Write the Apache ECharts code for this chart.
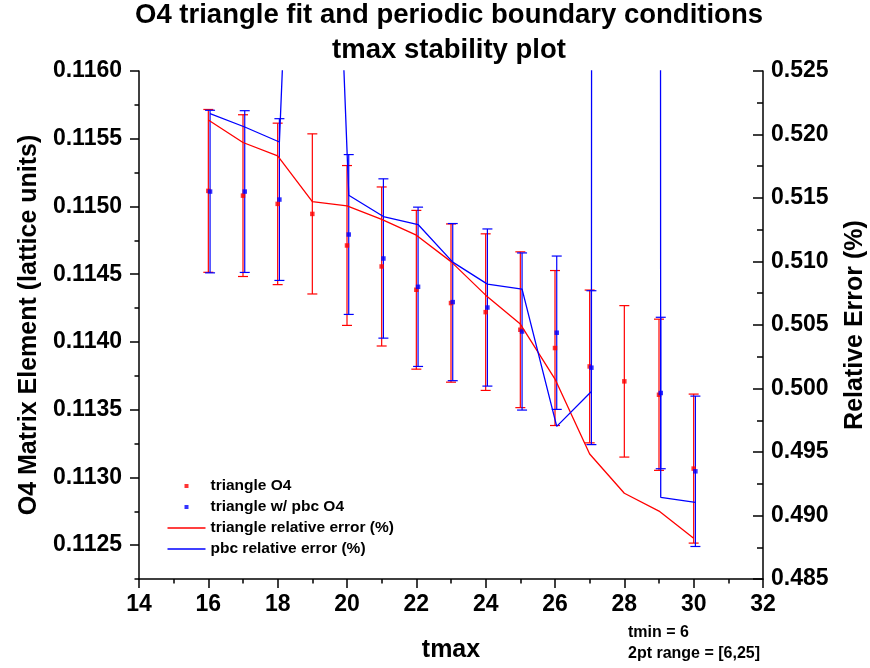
<!DOCTYPE html>
<html>
<head>
<meta charset="utf-8">
<script src="https://cdn.jsdelivr.net/npm/echarts@6/dist/echarts.min.js"></script>
<style>html,body{margin:0;padding:0;background:#fff}#c{width:870px;height:668px}</style>
</head>
<body>
<div id="c"></div>
<script>
// ---- data ----
const tmax = [16, 17, 18, 19, 20, 21, 22, 23, 24, 25, 26, 27, 28, 29, 30];
const triO4 = [0.115115, 0.115080, 0.115019, 0.114945, 0.114712, 0.114557, 0.114385, 0.114287, 0.114220, 0.114090, 0.113955, 0.113819, 0.113709, 0.113610, 0.113065];
const triErr = [0.000601, 0.000597, 0.000596, 0.000591, 0.000590, 0.000587, 0.000586, 0.000584, 0.000578, 0.000575, 0.000572, 0.000564, 0.000559, 0.000558, 0.000550];
const pbcO4 = [0.115110, 0.115110, 0.115051, null, 0.114793, 0.114616, 0.114407, 0.114294, 0.114254, 0.114077, 0.114068, 0.113810, null, 0.113623, 0.113045];
const pbcErr = [0.000600, 0.000597, 0.000597, null, 0.000590, 0.000588, 0.000588, 0.000580, 0.000580, 0.000580, 0.000566, 0.000568, null, 0.000559, 0.000555];
const triRel = [0.52114, 0.51937, 0.51831, 0.51472, 0.51438, 0.51331, 0.51207, 0.50999, 0.50735, 0.50507, 0.50074, 0.49484, 0.49175, 0.49035, 0.48820];
const pbcRel = [0.52165, 0.52059, 0.51941, 0.586, 0.51522, 0.51354, 0.51291, 0.50995, 0.50822, 0.50782, 0.49702, 0.49977, 6.0, 0.49143, 0.49104];
const pbcShift = 0.05; // pbc set drawn slightly right of the integer tmax
const xTicks = [14, 16, 18, 20, 22, 24, 26, 28, 30, 32];
const leftTicks = [0.1125, 0.1130, 0.1135, 0.1140, 0.1145, 0.1150, 0.1155, 0.1160];
const rightTicks = [0.485, 0.490, 0.495, 0.500, 0.505, 0.510, 0.515, 0.520, 0.525];

const FONT = 'Liberation Sans, Arial, Helvetica, sans-serif';
const RED = '#ff0000', BLUE = '#0000ff';

const triPts = tmax.map((t, i) => [t, triO4[i]]);
const triBars = tmax.map((t, i) => [t, triO4[i], triErr[i]]);
const pbcPts = [], pbcBars = [];
tmax.forEach((t, i) => {
  if (pbcO4[i] != null) {
    pbcPts.push([t + pbcShift, pbcO4[i]]);
    pbcBars.push([t + pbcShift, pbcO4[i], pbcErr[i]]);
  }
});
const triRelData = tmax.map((t, i) => [t, triRel[i]]);
const pbcRelData = tmax.map((t, i) => [t + pbcShift, pbcRel[i]]);

function errRender(color) {
  return function (params, api) {
    const x = api.value(0), y = api.value(1), e = api.value(2);
    const top = api.coord([x, y + e]);
    const bot = api.coord([x, y - e]);
    const hw = 5;
    const style = { stroke: color, lineWidth: 1.2 };
    return {
      type: 'group',
      children: [
        { type: 'line', shape: { x1: top[0], y1: top[1], x2: bot[0], y2: bot[1] }, style: style },
        { type: 'line', shape: { x1: top[0] - hw, y1: top[1], x2: top[0] + hw, y2: top[1] }, style: style },
        { type: 'line', shape: { x1: bot[0] - hw, y1: bot[1], x2: bot[0] + hw, y2: bot[1] }, style: style }
      ]
    };
  };
}

const sq = 'path://M0,0M16,16M6,6L10,6L10,10L6,10Z';
const ln = 'path://M0,0L38,0L38,1.4L0,1.4Z';
const labelStyle = { color: '#000', fontFamily: FONT, fontWeight: 'bold', fontSize: 23 };
const nameStyle = { color: '#000', fontFamily: FONT, fontWeight: 'bold', fontSize: 25 };
const axLine = { show: true, lineStyle: { color: '#000', width: 1.5 } };

const chart = echarts.init(document.getElementById('c'), null, { renderer: 'canvas' });
chart.setOption({
  animation: false,
  backgroundColor: '#fff',
  title: {
    text: 'O4 triangle fit and periodic boundary conditions\ntmax stability plot',
    left: 449,
    textAlign: 'center',
    top: -2,
    padding: 0,
    textStyle: { color: '#000', fontFamily: FONT, fontWeight: 'bold', fontSize: 27.5, lineHeight: 35 }
  },
  grid: { left: 139, right: 107, top: 71, bottom: 89, containLabel: false, outerBoundsMode: 'none' },
  legend: {
    orient: 'vertical',
    left: 162.5,
    top: 473,
    itemWidth: 38,
    itemHeight: 16,
    itemGap: 5,
    selectedMode: false,
    textStyle: { color: '#000', fontFamily: FONT, fontWeight: 'bold', fontSize: 15.5 },
    data: [
      { name: 'triangle O4', icon: sq },
      { name: 'triangle w/ pbc O4', icon: sq },
      { name: 'triangle relative error (%)', icon: ln },
      { name: 'pbc relative error (%)', icon: ln }
    ]
  },
  xAxis: {
    type: 'value', min: xTicks[0], max: xTicks[xTicks.length - 1], interval: 2,
    name: 'tmax', nameLocation: 'middle', nameGap: 59, nameTextStyle: nameStyle,
    axisLine: { show: true, onZero: false, lineStyle: { color: '#000', width: 1.5 } },
    axisTick: { show: true, inside: false, length: 9, lineStyle: { color: '#000', width: 1.5 } },
    minorTick: { show: true, splitNumber: 2, length: 4.5, lineStyle: { color: '#000', width: 1.5 } },
    axisLabel: Object.assign({ margin: 14 }, labelStyle),
    splitLine: { show: false }
  },
  yAxis: [
    {
      type: 'value', position: 'left', min: 0.11225, max: 0.116, interval: 0.00025,
      name: 'O4 Matrix Element (lattice units)', nameLocation: 'middle', nameGap: 95, nameTextStyle: nameStyle,
      axisLine: axLine,
      axisTick: { show: true, inside: false, length: 9, customValues: leftTicks, lineStyle: { color: '#000', width: 1.5 } },
      axisLabel: Object.assign({ margin: 17, customValues: leftTicks, formatter: v => Number(v).toFixed(4) }, labelStyle),
      splitLine: { show: false }
    },
    {
      type: 'value', position: 'right', min: rightTicks[0], max: rightTicks[rightTicks.length - 1], interval: 0.005,
      name: 'Relative Error (%)', nameLocation: 'middle', nameGap: 80, nameTextStyle: nameStyle,
      axisLine: axLine,
      axisTick: { show: true, inside: true, length: 10, lineStyle: { color: '#000', width: 1.5 } },
      minorTick: { show: true, splitNumber: 2, length: 6, lineStyle: { color: '#000', width: 1.5 } },
      axisLabel: Object.assign({ margin: 8, formatter: v => Number(v).toFixed(3) }, labelStyle),
      splitLine: { show: false }
    },
    {
      type: 'value', position: 'left', min: 0.11225, max: 0.116, interval: 0.00025,
      axisLine: { show: false },
      axisTick: { show: true, inside: false, length: 4.5, lineStyle: { color: '#000', width: 1.5 } },
      axisLabel: { show: false },
      splitLine: { show: false }
    }
  ],
  graphic: [
    { type: 'text', left: 628, top: 625, style: { text: 'tmin = 6', fill: '#000', font: 'bold 16px ' + FONT } },
    { type: 'text', left: 628, top: 646, style: { text: '2pt range = [6,25]', fill: '#000', font: 'bold 16px ' + FONT } }
  ],
  series: [
    { type: 'custom', name: 'triangle O4 err', xAxisIndex: 0, yAxisIndex: 0, renderItem: errRender(RED), encode: { x: 0, y: 1 }, data: triBars, silent: true },
    { type: 'scatter', name: 'triangle O4', xAxisIndex: 0, yAxisIndex: 0, symbol: 'rect', symbolSize: 4.5, itemStyle: { color: RED }, data: triPts, silent: true },
    { type: 'custom', name: 'pbc O4 err', xAxisIndex: 0, yAxisIndex: 0, renderItem: errRender(BLUE), encode: { x: 0, y: 1 }, data: pbcBars, silent: true },
    { type: 'scatter', name: 'triangle w/ pbc O4', xAxisIndex: 0, yAxisIndex: 0, symbol: 'rect', symbolSize: 4.5, itemStyle: { color: BLUE }, data: pbcPts, silent: true },
    { type: 'line', name: 'triangle relative error (%)', xAxisIndex: 0, yAxisIndex: 1, symbol: 'none', showSymbol: false, clip: true, lineStyle: { color: RED, width: 1.3 }, itemStyle: { color: RED }, data: triRelData, silent: true },
    { type: 'line', name: 'pbc relative error (%)', xAxisIndex: 0, yAxisIndex: 1, symbol: 'none', showSymbol: false, clip: true, lineStyle: { color: BLUE, width: 1.3 }, itemStyle: { color: BLUE }, data: pbcRelData, silent: true }
  ]
});
</script>
</body>
</html>
